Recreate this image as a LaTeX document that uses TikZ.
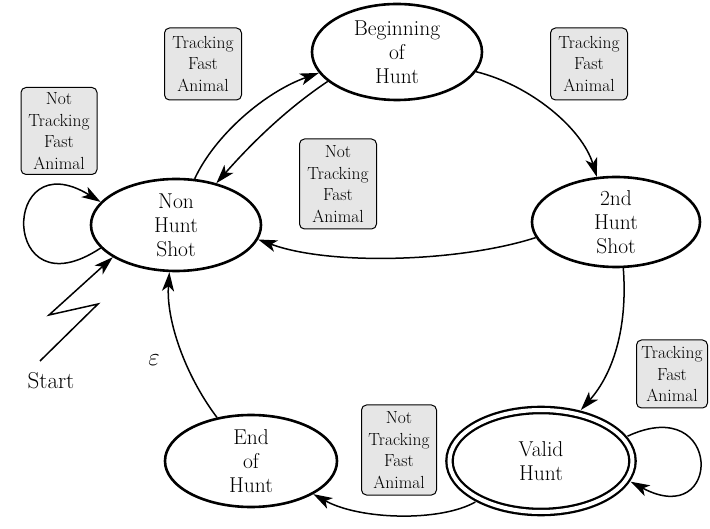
\documentclass[tikz,border=0pt]{standalone}
\usepackage{tikz}
\usepackage{xcolor}
\definecolor{guard}{RGB}{230,230,230}
\usetikzlibrary{positioning, calc, shapes.geometric, arrows.meta}
\tikzstyle{State} = [
ellipse, draw, line width=2.6pt, inner sep=0pt, align=center,
font=\fontsize{21.5}{24}\selectfont]
\tikzstyle{Guard} = [
rectangle, draw, line width=1pt, rounded corners=5pt, fill=guard,
inner sep=0pt, align=center, font=\fontsize{17.5}{21.5}\selectfont]
\tikzstyle{Arrow} = [
line width=1.5pt,
-{Stealth[length=19pt, width=12pt, inset=5pt]}]

\begin{document}
\begin{tikzpicture}[x=1pt, y=-1pt]
    \useasboundingbox (0,0) rectangle (710,529);

    \node [State, minimum width=170pt, minimum height=92pt] (1) at (176,225) {Non\\Hunt\\Shot};
    \node [State, minimum width=170pt, minimum height=96pt] (2) at (397,52) {Beginning\\of\\Hunt};
    \node [State, minimum width=168pt, minimum height=90pt] (3) at (616,222) {2nd\\Hunt\\Shot};
    \node [State, double, double distance=4pt, line width=2.3pt, outer sep=5pt,
           minimum width=183pt, minimum height=102pt] (4) at (541,461) {Valid\\Hunt};
    \node [State, minimum width=172pt, minimum height=92pt] (5) at (251,461) {End\\of\\Hunt};

    \node [Guard, minimum width=76pt, minimum height=87pt] (g1) at (59,131) {Not\\Tracking\\Fast\\Animal};
    \node [Guard, minimum width=77pt, minimum height=72pt] (g2) at (203,64) {Tracking\\Fast\\Animal};
    \node [Guard, minimum width=77pt, minimum height=90pt] (g3) at (338,184) {Not\\Tracking\\Fast\\Animal};
    \node [Guard, minimum width=77pt, minimum height=72pt] (g4) at (589,64) {Tracking\\Fast\\Animal};
    \node [Guard, minimum width=71pt, minimum height=68pt] (g5) at (672,374) {Tracking\\Fast\\Animal};
    \node [Guard, minimum width=75pt, minimum height=90pt] (g6) at (399,450) {Not\\Tracking\\Fast\\Animal};

    \node [font=\fontsize{23}{26}\selectfont] (start) at (51,381) {Start};
    \node [font=\fontsize{24}{26}\selectfont] (eps) at (154,360) {$\varepsilon$};
    \coordinate (s0) at (40,361);
    \coordinate (s1) at (98,304);
    \coordinate (s2) at (49,315);

    \draw[Arrow] (s0) -- (s1) -- (s2) -- (1.207);
    \draw[Arrow] (1.197) .. controls (0,315) and (0,140) .. (1.163);
    \draw[Arrow] (1.68) .. controls (215,135) and (265,92) .. (2.195);
    \draw[Arrow] (2.203) .. controls (285,110) and (250,145) .. (1.46);
    \draw[Arrow] (2.346) .. controls (530,85) and (582,128) .. (3.113);
    \draw[Arrow] (3.191) .. controls (460,262) and (330,266) .. (1.350);
    \draw[Arrow] (3.279) .. controls (628,330) and (612,375) .. (4.52);
    \draw[Arrow] (4.16) .. controls (723,392) and (723,531) .. (4.347);
    \draw[Arrow] (4.212) .. controls (440,522) and (360,520) .. (5.332);
    \draw[Arrow] (5.128) .. controls (185,375) and (166,320) .. (1.262);
\end{tikzpicture}
\end{document}
